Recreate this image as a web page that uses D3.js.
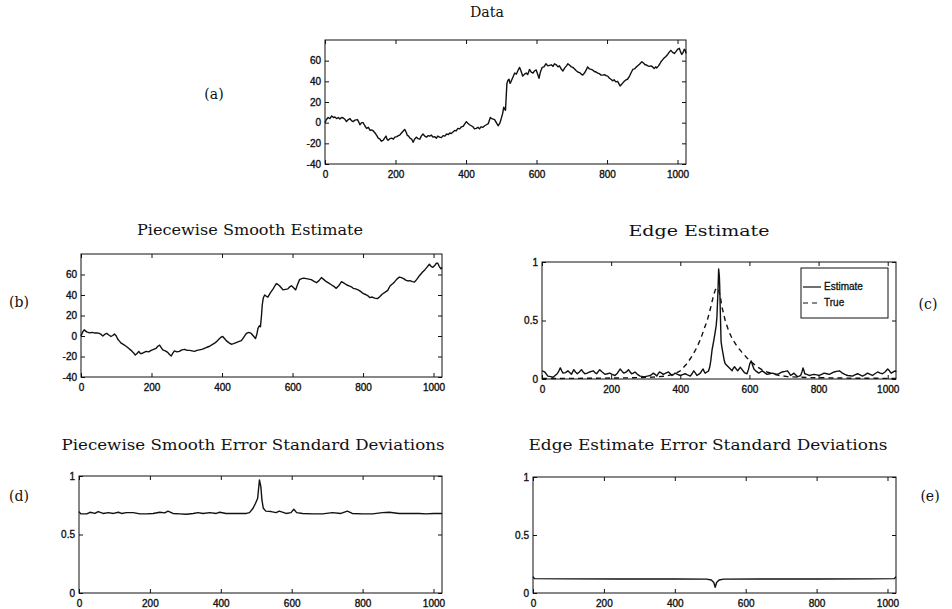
<!DOCTYPE html>
<html>
<head>
<meta charset="utf-8">
<script src="https://cdn.jsdelivr.net/npm/d3@7"></script>
<style>
  body { margin: 0; background: #fff; }
  svg { display: block; }
  .tick text { font-family: "Liberation Sans", Arial, sans-serif; font-size: 10px; fill: #111; stroke: #111; stroke-width: 0.35px; }
  .tick line { stroke: #111; }
  .ttl { font-family: "DejaVu Serif", serif; font-size: 15px; fill: #111; }
  .lbl { font-family: "DejaVu Serif", serif; font-size: 14px; fill: #111; }
</style>
</head>
<body>
<svg id="fig" width="952" height="609"></svg>
<script>
// tick values
var xTicks = [0, 200, 400, 600, 800, 1000];
var signalTicks = [-40, -20, 0, 20, 40, 60];
var unitTicks = [0, 0.5, 1];
var legendLabels = ["Estimate", "True"];

// (a) observed data, [sample, value]
var dataSeries = [[0,0],[4,3],[9,5],[14,4],[19,6.5],[24,5],[28,5.5],[33,4],[38,5],[42,3.5],[47,5],[52,4.5],[57,3],[61,1],[66,3],[71,4],[75,2],[80,1],[85,2.5],[92,3],[96,0.5],[99,-2],[104,0],[108,0],[113,-3],[118,-5.5],[123,-4.5],[128,-7.5],[132,-7],[137,-8],[142,-10],[147,-12.5],[151,-15],[156,-16],[160,-18],[165,-17],[169,-15],[173,-13],[176,-16],[179,-17],[184,-15.5],[189,-15],[194,-16],[198,-14],[204,-13.5],[208,-12.5],[212,-12],[217,-10],[222,-8],[226,-6.5],[230,-9],[233,-12],[237,-13],[241,-15],[246,-16],[250,-19],[254,-16],[259,-14],[264,-15.5],[269,-16],[273,-13],[278,-11],[283,-13],[288,-14],[293,-12.5],[297,-13],[302,-12],[306,-14],[311,-13.5],[316,-15],[320,-13],[325,-14],[330,-14.5],[335,-12.5],[340,-13],[345,-11],[350,-11.5],[354,-10],[358,-10.5],[363,-9],[368,-7.5],[372,-8],[377,-5.5],[382,-6],[387,-4],[392,-3.5],[396,-1.5],[401,1],[405,-0.5],[410,-2],[415,-3],[420,-4],[424,-6],[429,-5.5],[434,-4.5],[438,-6],[443,-4],[448,-4.5],[453,-3],[458,-2],[463,-1],[469,5],[473,4],[477,3.5],[481,3],[486,0],[491,-3],[496,-0.5],[500,4],[504,9],[507,15],[510,13],[512,12],[514,25],[516,38],[519,41],[522,42],[525,38],[528,40],[533,44],[538,48],[543,47],[548,51],[552,53.5],[556,50],[561,45],[566,47],[571,48],[575,46.5],[580,51.5],[585,49],[590,48],[594,50],[599,51],[603,47],[607,43],[611,49],[616,53.5],[621,54],[627,57],[632,55],[637,55.5],[642,56],[647,54.5],[651,57],[656,56],[661,54],[665,55],[670,52],[675,50],[680,53],[685,55],[689,57],[694,55.5],[699,54],[703,53.5],[708,52],[712,50.5],[717,49],[722,48.5],[727,47],[731,46],[736,48],[741,51],[745,54],[750,52],[755,51.5],[759,51],[764,49.5],[769,49],[774,48],[778,47.5],[783,46],[788,46],[793,46.5],[797,45.5],[802,45],[807,43],[811,42],[816,40.5],[820,41.5],[825,39.5],[830,40],[834,37.5],[837,35.5],[841,37],[845,38.5],[849,40],[854,41.5],[858,42],[863,44.5],[868,48],[873,51.5],[878,52],[882,53.5],[887,55],[892,56.5],[896,58],[899,59],[904,57.5],[908,56],[911,56],[916,55],[920,54.5],[925,55],[929,54],[934,52.5],[938,54],[941,53],[946,55],[950,57],[953,59],[958,61],[962,62.5],[967,64],[972,66],[976,68],[981,70],[986,68],[991,67],[996,69],[1000,71],[1005,72],[1008,69],[1012,66],[1016,68],[1019,71],[1022,70],[1024,67]];

// (b) piecewise smooth estimate
var smoothSeries = [[0,0],[5,4],[9,6],[16,4],[24,3],[31,3.5],[38,3],[45,3],[52,2.5],[57,1.5],[62,0],[67,1.5],[73,2.5],[79,1],[85,-0.5],[90,0.5],[95,2],[100,0],[104,-3],[109,-5],[114,-7],[121,-8.5],[128,-10],[135,-12],[142,-14],[148,-16],[154,-18.5],[159,-17],[164,-15],[168,-17],[173,-17],[179,-16],[185,-15],[192,-15.5],[199,-14],[206,-13],[213,-12],[218,-10],[223,-9],[227,-11],[232,-13.5],[239,-14.5],[246,-16],[251,-18],[256,-19.5],[260,-17],[265,-14.5],[272,-15.5],[279,-15],[286,-13.5],[294,-13],[301,-14],[308,-14],[315,-14.5],[322,-15],[329,-14],[336,-13.5],[343,-13],[350,-12],[357,-11],[365,-10],[372,-8.5],[379,-7],[386,-5],[393,-2.5],[398,-1],[402,-0.5],[407,-2.5],[412,-4.5],[419,-6.5],[426,-8],[433,-7.5],[440,-6.5],[447,-5.5],[455,-4.5],[462,-1],[469,2.5],[476,3.5],[483,2.5],[489,0],[495,-2.5],[499,2],[502,7.5],[506,10],[509,9],[512,20],[514,30],[517,37],[521,40],[525,39],[530,38],[537,42],[545,46],[550,49],[554,51],[558,50.5],[563,49],[568,47],[573,45],[580,45.5],[587,46],[592,48],[597,49],[603,47],[609,45],[614,50],[620,55],[626,56],[632,56.5],[639,56],[646,55.5],[653,55],[660,53.5],[668,52],[675,54],[682,57],[689,55],[696,53],[703,51.5],[710,50],[717,48.5],[724,46.5],[731,49],[739,53],[746,51.5],[753,50],[760,49],[767,48],[772,46.5],[779,46],[786,45],[793,43.5],[800,41.5],[807,40.5],[813,39.5],[819,37.5],[826,38],[833,37],[841,36.5],[848,38.5],[855,41],[862,42.5],[870,44.5],[877,49],[884,51],[890,53],[896,55.5],[903,57.5],[909,57],[915,56],[921,54.5],[927,53.7],[933,54],[940,53],[946,52.7],[952,55],[958,58],[963,60],[969,62.4],[975,64.5],[981,67],[988,70],[993,68],[998,67],[1004,69],[1008,71],[1012,71],[1016,68],[1021,65.5],[1024,67]];

// (c) edge estimate and true edge
var edgeSeries = [[0,0.07],[8,0.06],[17,0.025],[25,0.02],[32,0.015],[38,0.03],[44,0.045],[49,0.07],[53,0.095],[57,0.07],[61,0.05],[68,0.055],[75,0.07],[80,0.055],[85,0.04],[92,0.08],[97,0.06],[102,0.045],[108,0.06],[114,0.08],[119,0.06],[124,0.045],[131,0.05],[138,0.06],[143,0.065],[148,0.07],[153,0.055],[158,0.045],[163,0.065],[167,0.08],[174,0.06],[182,0.04],[189,0.045],[196,0.05],[203,0.04],[211,0.03],[218,0.05],[226,0.085],[232,0.065],[237,0.05],[244,0.06],[250,0.08],[255,0.06],[259,0.045],[264,0.05],[269,0.06],[276,0.04],[284,0.025],[291,0.022],[298,0.02],[305,0.025],[313,0.03],[318,0.04],[322,0.05],[327,0.04],[332,0.025],[336,0.045],[340,0.06],[346,0.05],[351,0.04],[358,0.05],[366,0.06],[371,0.045],[376,0.03],[381,0.04],[385,0.05],[392,0.04],[400,0.03],[407,0.038],[414,0.045],[421,0.035],[429,0.025],[434,0.045],[439,0.07],[444,0.05],[448,0.03],[453,0.04],[458,0.05],[462,0.07],[466,0.085],[469,0.065],[472,0.05],[477,0.06],[482,0.07],[485,0.1],[488,0.15],[492,0.25],[497,0.33],[501,0.4],[504,0.46],[506,0.53],[509,0.75],[511,0.94],[513,0.88],[514,0.8],[516,0.55],[518,0.32],[521,0.26],[524,0.21],[527,0.16],[530,0.13],[535,0.115],[540,0.1],[545,0.085],[550,0.07],[553,0.09],[557,0.105],[562,0.085],[566,0.07],[570,0.085],[574,0.1],[579,0.08],[584,0.06],[588,0.05],[593,0.045],[597,0.08],[601,0.13],[605,0.155],[609,0.12],[613,0.085],[620,0.065],[627,0.05],[632,0.06],[637,0.07],[644,0.055],[651,0.04],[658,0.045],[666,0.05],[673,0.045],[681,0.04],[688,0.05],[695,0.06],[703,0.065],[710,0.07],[715,0.05],[719,0.03],[724,0.04],[729,0.05],[734,0.035],[739,0.02],[744,0.025],[748,0.03],[752,0.06],[755,0.095],[758,0.07],[760,0.045],[766,0.04],[773,0.03],[780,0.035],[787,0.04],[795,0.035],[802,0.03],[809,0.04],[816,0.05],[824,0.045],[831,0.04],[838,0.05],[845,0.06],[852,0.065],[860,0.07],[865,0.06],[869,0.05],[876,0.04],[884,0.03],[891,0.028],[898,0.025],[905,0.035],[913,0.045],[920,0.035],[927,0.025],[934,0.035],[942,0.05],[949,0.04],[956,0.03],[963,0.045],[971,0.06],[978,0.05],[985,0.045],[992,0.06],[1000,0.085],[1005,0.07],[1010,0.05],[1016,0.06],[1022,0.07],[1024,0.06]];
var edgeTrue = [[0,0.004],[128,0.006],[256,0.01],[320,0.016],[360,0.025],[385,0.045],[400,0.07],[419,0.13],[435,0.2],[448,0.27],[460,0.35],[468,0.42],[478,0.5],[487,0.6],[495,0.7],[501,0.76],[506,0.78],[511,0.76],[516,0.7],[521,0.61],[530,0.5],[540,0.41],[551,0.34],[564,0.28],[578,0.23],[593,0.18],[608,0.14],[622,0.105],[636,0.08],[651,0.06],[666,0.045],[681,0.033],[710,0.02],[768,0.012],[896,0.007],[1024,0.005]];

// (d) piecewise smooth error std
var smoothStd = [[0,0.696],[5,0.676],[22,0.676],[31,0.69],[45,0.68],[54,0.696],[68,0.68],[83,0.687],[97,0.68],[111,0.69],[120,0.68],[134,0.687],[153,0.687],[172,0.676],[190,0.676],[209,0.68],[228,0.69],[242,0.685],[251,0.7],[265,0.68],[284,0.676],[303,0.673],[322,0.68],[336,0.687],[350,0.68],[369,0.687],[387,0.68],[397,0.69],[415,0.68],[434,0.68],[453,0.68],[472,0.68],[481,0.687],[491,0.724],[498,0.767],[504,0.81],[509,0.966],[513,0.91],[516,0.795],[520,0.724],[527,0.7],[542,0.696],[556,0.687],[565,0.7],[584,0.68],[598,0.687],[606,0.716],[614,0.687],[631,0.68],[659,0.676],[687,0.676],[715,0.687],[739,0.68],[757,0.7],[771,0.68],[800,0.676],[828,0.676],[856,0.687],[875,0.69],[903,0.68],[931,0.68],[959,0.68],[980,0.676],[1000,0.68],[1024,0.68]];

// (e) edge estimate error std
var edgeStd = [[0,0.14],[4,0.124],[100,0.122],[250,0.121],[400,0.121],[490,0.12],[503,0.112],[510,0.09],[514,0.05],[518,0.09],[525,0.112],[538,0.12],[650,0.121],[800,0.121],[950,0.122],[1019,0.124],[1024,0.14]];

var svg = d3.select("#fig");
svg.append("rect").attr("width", 952).attr("height", 609).attr("fill", "#fff");

var fmt = function(d){ return String(d); };

function panel(box, yDomain, yTicks, series) {
  var x = d3.scaleLinear().domain([0, 1024]).range([box.x0, box.x1]);
  var y = d3.scaleLinear().domain(yDomain).range([box.y1, box.y0]);
  var g = svg.append("g");
  var noDomain = function(s){ s.select(".domain").remove(); };

  g.append("g").attr("transform", "translate(0," + box.y1 + ")")
    .call(d3.axisBottom(x).tickValues(xTicks).tickSize(-4).tickSizeOuter(0).tickPadding(7).tickFormat(fmt))
    .call(noDomain);
  g.append("g").attr("transform", "translate(0," + box.y0 + ")")
    .call(d3.axisTop(x).tickValues(xTicks).tickSize(-4).tickSizeOuter(0).tickFormat(""))
    .call(noDomain);
  g.append("g").attr("transform", "translate(" + box.x0 + ",0)")
    .call(d3.axisLeft(y).tickValues(yTicks).tickSize(-4).tickSizeOuter(0).tickPadding(4).tickFormat(fmt))
    .call(noDomain);
  g.append("g").attr("transform", "translate(" + box.x1 + ",0)")
    .call(d3.axisRight(y).tickValues(yTicks).tickSize(-4).tickSizeOuter(0).tickFormat(""))
    .call(noDomain);

  g.append("rect")
    .attr("x", box.x0).attr("y", box.y0)
    .attr("width", box.x1 - box.x0).attr("height", box.y1 - box.y0)
    .attr("fill", "none").attr("stroke", "#111").attr("stroke-width", 1);

  var line = d3.line().x(function(d){ return x(d[0]); }).y(function(d){ return y(d[1]); });
  series.forEach(function(s){
    g.append("path").datum(s.values)
      .attr("d", line)
      .attr("fill", "none")
      .attr("stroke", "#111")
      .attr("stroke-width", 1.4)
      .attr("stroke-linejoin", "round")
      .attr("stroke-dasharray", s.dash || null);
  });
  return g;
}

function title(txt, cx, cy, w) {
  svg.append("text").attr("class", "ttl")
    .attr("x", cx).attr("y", cy)
    .attr("text-anchor", "middle")
    .attr("textLength", w).attr("lengthAdjust", "spacingAndGlyphs")
    .text(txt);
}
function tag(txt, cx, cy) {
  svg.append("text").attr("class", "lbl")
    .attr("x", cx).attr("y", cy)
    .attr("text-anchor", "middle").attr("dominant-baseline", "middle")
    .text(txt);
}

// (a)
panel({x0: 325, x1: 686, y0: 40, y1: 164}, [-40, 80], signalTicks, [{values: dataSeries}]);
// (b)
panel({x0: 81, x1: 442, y0: 254, y1: 377}, [-40, 80], signalTicks, [{values: smoothSeries}]);
// (c)
var gc = panel({x0: 542, x1: 896, y0: 262, y1: 379}, [0, 1], unitTicks,
  [{values: edgeTrue, dash: "5,4"}, {values: edgeSeries}]);
// (d)
panel({x0: 79, x1: 442, y0: 476, y1: 593}, [0, 1], unitTicks, [{values: smoothStd}]);
// (e)
panel({x0: 533, x1: 896, y0: 477, y1: 593}, [0, 1], unitTicks, [{values: edgeStd}]);

// legend in (c)
var lg = gc.append("g");
lg.append("rect").attr("x", 801).attr("y", 268).attr("width", 87).attr("height", 50)
  .attr("fill", "#fff").attr("stroke", "#111");
legendLabels.forEach(function(name, i){
  var ly = 287 + i * 16;
  lg.append("line").attr("x1", 803).attr("x2", 821).attr("y1", ly).attr("y2", ly)
    .attr("stroke", "#111").attr("stroke-width", 1.2)
    .attr("stroke-dasharray", i === 1 ? "5,4" : null);
  lg.append("text").attr("x", 824).attr("y", ly).attr("dominant-baseline", "middle")
    .attr("font-family", "Liberation Sans, Arial, sans-serif").attr("font-size", 10)
    .attr("fill", "#111").attr("stroke", "#111").attr("stroke-width", 0.3).text(name);
});

title("Data", 487, 17, 34);
title("Piecewise Smooth Estimate", 250, 235, 226);
title("Edge Estimate", 699, 236, 141);
title("Piecewise Smooth Error Standard Deviations", 253, 450, 383);
title("Edge Estimate Error Standard Deviations", 708, 450, 359);

tag("(a)", 214, 95);
tag("(b)", 19, 303);
tag("(c)", 928, 305);
tag("(d)", 19, 497);
tag("(e)", 930, 497);
</script>
</body>
</html>
